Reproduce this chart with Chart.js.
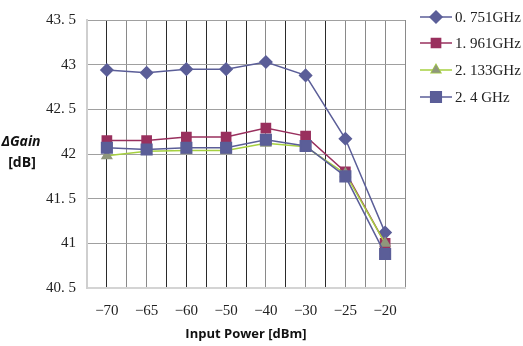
<!DOCTYPE html>
<html lang="en">
<head>
    <meta charset="UTF-8">
    <title>Gain vs Input Power</title>
    <script src="https://cdn.jsdelivr.net/npm/chart.js"></script>
    <style>
        html, body { margin: 0; padding: 0; background: #fff; }
        .chart-container { position: relative; width: 523px; height: 346px; }
    </style>
</head>
<body>
    <div class="chart-container">
        <canvas id="gain-chart"></canvas>
    </div>
    <script>
        // Input power categories [dBm]
        const powerLabels = ['−70', '−65', '−60', '−50', '−40', '−30', '−25', '−20'];
        const seriesNames = ['0. 751GHz', '1. 961GHz', '2. 133GHz', '2. 4 GHz'];

        // Gain [dB]
        const gain0751 = [42.94, 42.91, 42.95, 42.95, 43.03, 42.88, 42.17, 41.12];
        const gain1961 = [42.15, 42.15, 42.19, 42.19, 42.29, 42.20, 41.80, 41.00];
        const gain2133 = [41.98, 42.03, 42.04, 42.04, 42.12, 42.08, 41.78, 41.00];
        const gain2400 = [42.07, 42.05, 42.07, 42.07, 42.16, 42.09, 41.75, 40.88];

        const yTicks = [40.5, 41, 41.5, 42, 42.5, 43, 43.5];

        const styles = [
            { line: '#5b5e98', fill: '#5b5e98', point: 'rectRot', radius: 6, width: 1.5 },
            { line: '#99305e', fill: '#99305e', point: 'rect', radius: 6.5, width: 1.5 },
            { line: '#a6d040', fill: '#8f977c', point: 'triangle', radius: 5.5, width: 1.5 },
            { line: '#5b5e98', fill: '#5b5e98', point: 'rect', radius: 7.5, width: 1.5 }
        ];

        function toPoints(values) {
            return values.map((v, i) => ({ x: i, y: v }));
        }

        const allSeries = [gain0751, gain1961, gain2133, gain2400];
        const datasets = allSeries.map((values, i) => ({
            label: seriesNames[i],
            data: toPoints(values),
            borderColor: styles[i].line,
            backgroundColor: styles[i].fill,
            pointBackgroundColor: styles[i].fill,
            pointBorderColor: styles[i].fill,
            pointStyle: styles[i].point,
            pointRadius: styles[i].radius,
            borderWidth: styles[i].width,
            tension: 0,
            order: 4 - i
        }));

        // dark/light pattern of the vertical grid lines, left to right
        const vGridDark = [1, 1, 0, 0, 1, 1, 1, 1, 1, 0, 1, 0, 1, 0, 0, 0, 0];

        const sideText = {
            id: 'sideText',
            afterDraw(chart) {
                const ctx = chart.ctx;
                ctx.save();
                ctx.fillStyle = '#111';
                ctx.textAlign = 'center';
                ctx.textBaseline = 'middle';
                ctx.font = 'italic bold 14px "Open Sans"';
                ctx.fillText('ΔGain', 21, 142);
                ctx.font = 'bold 14px "Open Sans"';
                ctx.fillText('[dB]', 22, 163);

                // legend: line with marker, as in the original
                const rows = [17, 43, 70, 97];
                styles.forEach((s, i) => {
                    const y = rows[i];
                    ctx.strokeStyle = s.line;
                    ctx.lineWidth = 1.5;
                    ctx.beginPath();
                    ctx.moveTo(420, y);
                    ctx.lineTo(452, y);
                    ctx.stroke();
                    ctx.fillStyle = s.fill;
                    Chart.helpers.drawPoint(ctx, { pointStyle: s.point, radius: s.radius, rotation: 0, borderWidth: 1 }, 436, y);
                    ctx.fill();
                    ctx.fillStyle = '#222';
                    ctx.textAlign = 'left';
                    ctx.font = '15px "Liberation Serif"';
                    ctx.fillText(seriesNames[i], 455, y + 1);
                });
                ctx.restore();
            }
        };

        new Chart(document.getElementById('gain-chart'), {
            type: 'line',
            data: { datasets: datasets },
            options: {
                responsive: true,
                maintainAspectRatio: false,
                animation: false,
                layout: { padding: { top: 15, right: 118, left: 0, bottom: 0 } },
                plugins: {
                    legend: { display: false },
                    tooltip: { enabled: false }
                },
                scales: {
                    x: {
                        type: 'linear',
                        min: -0.5,
                        max: 7.5,
                        afterFit: s => { s.height = 58; },
                        afterBuildTicks: s => {
                            s.ticks = [];
                            for (let v = -0.5; v <= 7.5; v += 0.5) s.ticks.push({ value: v });
                        },
                        ticks: {
                            autoSkip: false,
                            maxRotation: 0,
                            padding: 14,
                            color: '#222',
                            font: { family: '"Liberation Serif"', size: 15 },
                            callback: v => Number.isInteger(v) ? powerLabels[v] : ''
                        },
                        grid: {
                            drawTicks: false,
                            lineWidth: 1,
                            color: c => {
                                const k = Math.round((c.tick.value + 0.5) * 2);
                                return vGridDark[k] ? '#2a2a2a' : '#8a8a8a';
                            }
                        },
                        border: { display: true, color: '#d4d4d4', width: 2 },
                        title: {
                            display: true,
                            text: 'Input Power [dBm]',
                            color: '#111',
                            font: { family: '"Open Sans"', size: 13, weight: 'bold' },
                            padding: { top: 0 }
                        }
                    },
                    y: {
                        min: 40.5,
                        max: 43.5,
                        afterFit: s => { s.width = 87; },
                        afterBuildTicks: s => { s.ticks = yTicks.map(v => ({ value: v })); },
                        ticks: {
                            padding: 11,
                            color: '#222',
                            font: { family: '"Liberation Serif"', size: 15 },
                            callback: v => String(v).replace('.', '. ')
                        },
                        grid: { drawTicks: false, color: '#a0a0a0', lineWidth: 1 },
                        border: { display: true, color: '#cfcfcf', width: 2 }
                    }
                }
            },
            plugins: [sideText]
        });
    </script>
</body>
</html>
